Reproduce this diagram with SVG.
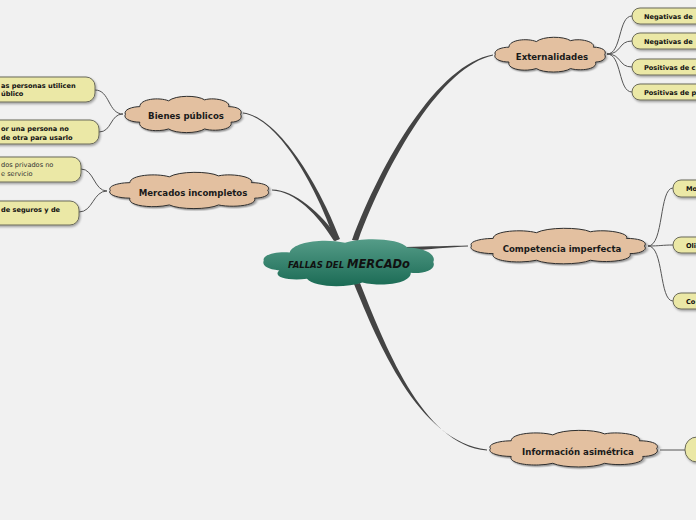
<svg xmlns="http://www.w3.org/2000/svg" width="696" height="520" viewBox="0 0 696 520">
<defs>
<linearGradient id="teal" x1="0" y1="0" x2="0" y2="1">
<stop offset="0" stop-color="#559c88"/>
<stop offset="1" stop-color="#1b6b55"/>
</linearGradient>
<filter id="sh" x="-10%" y="-20%" width="130%" height="160%">
<feDropShadow dx="1" dy="1.5" stdDeviation="0.8" flood-color="#000" flood-opacity="0.35"/>
</filter>
<path id="cloud" vector-effect="non-scaling-stroke" d="M2,20 C0,15 8,12 14,12 C14,4 30,2 38,6 C44,0 62,0 68,5 C76,2 90,6 88,12 C96,12 100,16 98,20 C100,24 96,28 90,28 C92,36 76,38 68,35 C62,40 44,40 38,35 C28,39 12,36 14,28 C6,28 0,24 2,20 Z"/>
<path id="cloudc" d="M1,19 C0,14 8,11 16,12 C18,3 36,0 48,4 C58,-1 80,0 84,8 C94,8 101,14 99,20 C101,26 94,30 86,29 C86,38 70,41 58,37 C48,42 30,41 26,34 C14,36 6,32 10,27 C2,26 0,22 1,19 Z"/>
</defs>
<style>
.bg{fill:#f1f1f1}
.cl{fill:#e3c0a0;stroke:#2e2e2e;stroke-width:1}
.ct{font-family:"DejaVu Sans",Verdana,sans-serif;font-weight:bold;font-size:8.6px;fill:#1a1a1a;text-anchor:middle}
.lf{fill:#ebe8a6;stroke:#6a6a5a;stroke-width:1}
.lt{font-family:"DejaVu Sans",Verdana,sans-serif;font-weight:bold;font-size:6.6px;fill:#111}
.ln{font-family:"DejaVu Sans",Verdana,sans-serif;font-size:6.6px;fill:#333}
.main{fill:#444}
.thin{fill:none;stroke:#555;stroke-width:1}
</style>
<rect class="bg" x="0" y="0" width="696" height="520"/>

<g id="connectors">
<path class="main" d="M243,112.4 C280,117.4 321,189 340,239 L335,241 C318,191 280,118.6 243,113.6 Z"/>
<path class="main" d="M272,189.6 C295,190.2 321,213 339,239 L334,241 C318,215 295,191 272,190.4 Z"/>
<path class="main" d="M352,240 C382,160 438,64 493,54.4 L493,55.6 C442,66 388,160 358,241 Z"/>
<path class="main" d="M405,247 C430,246.5 450,246 468,245.6 L468,246.6 C450,247.2 430,249 405,251.5 Z"/>
<path class="main" d="M354,284 C377,340 418,442 487,449.5 L487,450.5 C422,446 383,340 360,283 Z"/>
<path class="thin" d="M607,54 C622,54 618,16 632,16"/>
<path class="thin" d="M607,54 C622,54 618,41 632,41"/>
<path class="thin" d="M607,54 C622,54 618,67 632,67"/>
<path class="thin" d="M607,54 C622,54 618,92 632,92"/>
<path class="thin" d="M648,246 C664,246 659,188 673,188"/>
<path class="thin" d="M648,246 C660,246 662,245 673,245"/>
<path class="thin" d="M648,246 C664,246 659,301 673,301"/>
<path class="thin" d="M660,450 L685,450"/>
<path class="thin" d="M123,114 C108,114 110,90 95,90"/>
<path class="thin" d="M123,114 C110,114 112,132 99,132"/>
<path class="thin" d="M107,191 C94,191 94,169 81,169"/>
<path class="thin" d="M107,191 C93,191 93,212 79,212"/>
</g>

<g id="center">
<use href="#cloudc" fill="url(#teal)" transform="translate(262,238) scale(1.73,1.2)"/>
<text x="349" y="268" font-family="'DejaVu Sans',Verdana,sans-serif" font-weight="bold" font-style="italic" fill="#111" text-anchor="middle"><tspan font-size="8.5">FALLAS DEL </tspan><tspan font-size="11.5">MERCADo</tspan></text>
</g>

<g id="externalidades">
<use href="#cloud" class="cl" filter="url(#sh)" transform="translate(493,36) scale(1.14,0.93)"/>
<text class="ct" x="552" y="60">Externalidades</text>
</g>
<g id="ext1"><rect class="lf" filter="url(#sh)" x="632" y="8" width="90" height="16" rx="8"/><text class="lt" x="644" y="18.5">Negativas de</text></g>
<g id="ext2"><rect class="lf" filter="url(#sh)" x="632" y="33" width="90" height="16" rx="8"/><text class="lt" x="644" y="43.5">Negativas de</text></g>
<g id="ext3"><rect class="lf" filter="url(#sh)" x="632" y="59" width="90" height="16" rx="8"/><text class="lt" x="644" y="69.5">Positivas de c</text></g>
<g id="ext4"><rect class="lf" filter="url(#sh)" x="632" y="84" width="90" height="16" rx="8"/><text class="lt" x="644" y="94.5">Positivas de p</text></g>

<g id="competencia">
<use href="#cloud" class="cl" filter="url(#sh)" transform="translate(468,227) scale(1.8,0.95)"/>
<text class="ct" x="562" y="252">Competencia imperfecta</text>
</g>
<g id="comp1"><rect class="lf" filter="url(#sh)" x="673" y="180" width="60" height="17" rx="8"/><text class="lt" x="686" y="191">Mo</text></g>
<g id="comp2"><rect class="lf" filter="url(#sh)" x="673" y="237" width="60" height="16" rx="8"/><text class="lt" x="686" y="247.5">Oli</text></g>
<g id="comp3"><rect class="lf" filter="url(#sh)" x="673" y="293" width="60" height="16" rx="8"/><text class="lt" x="686" y="303.5">Co</text></g>

<g id="informacion">
<use href="#cloud" class="cl" filter="url(#sh)" transform="translate(487,429) scale(1.73,0.98)"/>
<text class="ct" x="578" y="455">Información asimétrica</text>
</g>
<g id="info1"><rect class="lf" filter="url(#sh)" x="685" y="437" width="40" height="25" rx="12"/></g>

<g id="bienes">
<use href="#cloud" class="cl" filter="url(#sh)" transform="translate(123,95) scale(1.2,0.97)"/>
<text class="ct" x="186" y="119">Bienes públicos</text>
</g>
<g id="bien1"><rect class="lf" filter="url(#sh)" x="-20" y="77" width="115" height="25" rx="9"/><text class="lt" x="1" y="88">as personas utilicen</text><text class="lt" x="1" y="96">úblico</text></g>
<g id="bien2"><rect class="lf" filter="url(#sh)" x="-20" y="120" width="119" height="24" rx="9"/><text class="lt" x="1" y="131">or una persona no</text><text class="lt" x="1" y="140">de otra para usarlo</text></g>

<g id="mercados">
<use href="#cloud" class="cl" filter="url(#sh)" transform="translate(107,171) scale(1.64,0.97)"/>
<text class="ct" x="193" y="196">Mercados incompletos</text>
</g>
<g id="merc1"><rect class="lf" filter="url(#sh)" x="-20" y="157" width="101" height="25" rx="9"/><text class="ln" x="1" y="167">dos privados no</text><text class="ln" x="1" y="176">e servicio</text></g>
<g id="merc2"><rect class="lf" filter="url(#sh)" x="-20" y="201" width="99" height="24" rx="9"/><text class="lt" x="1" y="212">de seguros y de</text></g>
</svg>
